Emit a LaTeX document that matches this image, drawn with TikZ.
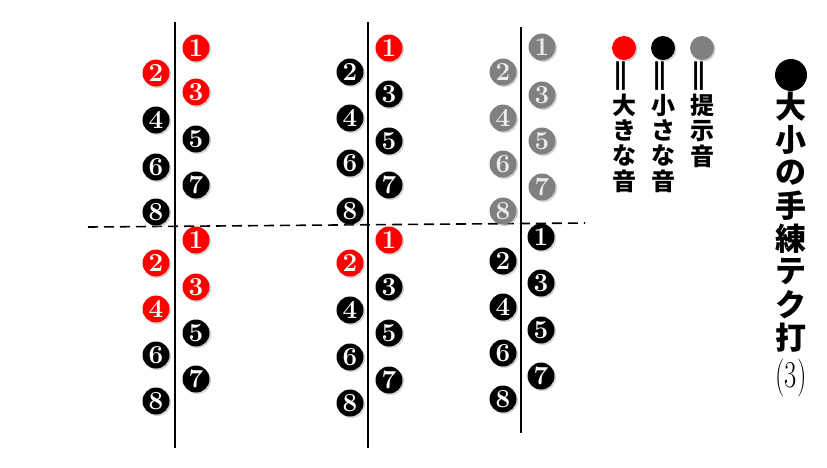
\documentclass[tikz,border=0pt]{standalone}
\usepackage{fontspec}
\newfontfamily\cjk{Noto Sans CJK JP}
\usetikzlibrary{shadows}
\definecolor{myred}{RGB}{255,0,0}
\definecolor{mygray}{RGB}{128,128,128}
\tikzset{
  num/.style={circle, minimum size=27pt, inner sep=0pt,
    drop shadow={shadow xshift=1.5pt, shadow yshift=-1.5pt, opacity=0.35},
    text=white, font=\bfseries\fontsize{26}{26}\selectfont},
  rnum/.style={num, fill=myred},
  bnum/.style={num, fill=black},
  gnum/.style={num, fill=mygray, text=white!85!mygray},
  vline/.style={line width=1.6pt, black},
  dline/.style={line width=1.6pt, black, dash pattern=on 10pt off 6pt},
  dot/.style={circle, minimum size=24pt, inner sep=0pt,
    drop shadow={shadow xshift=1.5pt, shadow yshift=-1.5pt, opacity=0.35}},
  lg/.style={inner sep=0pt, font=\cjk\bfseries\fontsize{24}{24}\selectfont},
  ttl/.style={inner sep=0pt, font=\cjk\bfseries\fontsize{31}{31}\selectfont},
}
\begin{document}
\begin{tikzpicture}[x=1pt,y=-1pt]
\useasboundingbox (0,0) rectangle (827,467);

% lines
\coordinate (l1t) at (175,22); \coordinate (l1b) at (175,448);
\coordinate (l2t) at (368,22); \coordinate (l2b) at (368,448);
\coordinate (l3t) at (521,27); \coordinate (l3b) at (521,433);
\coordinate (dl) at (88,227); \coordinate (dr) at (585,223);
\draw[vline] (l1t) -- (l1b);
\draw[vline] (l2t) -- (l2b);
\draw[vline] (l3t) -- (l3b);
\draw[dline] (dl) -- (dr);

% column 1 upper
\node[rnum] (a1) at (196,48) {1};
\node[rnum] (a2) at (156,73) {2};
\node[rnum] (a3) at (196,92) {3};
\node[bnum] (a4) at (156,120) {4};
\node[bnum] (a5) at (196,139) {5};
\node[bnum] (a6) at (156,167) {6};
\node[bnum] (a7) at (196,185) {7};
\node[bnum] (a8) at (156,212) {8};
% column 1 lower
\node[rnum] (b1) at (196,240) {1};
\node[rnum] (b2) at (156,263) {2};
\node[rnum] (b3) at (196,287) {3};
\node[rnum] (b4) at (156,309) {4};
\node[bnum] (b5) at (196,333) {5};
\node[bnum] (b6) at (156,355) {6};
\node[bnum] (b7) at (196,379) {7};
\node[bnum] (b8) at (156,401) {8};

% column 2 upper
\node[rnum] (c1) at (389,48) {1};
\node[bnum] (c2) at (350,72) {2};
\node[bnum] (c3) at (389,94) {3};
\node[bnum] (c4) at (350,118) {4};
\node[bnum] (c5) at (389,141) {5};
\node[bnum] (c6) at (350,163) {6};
\node[bnum] (c7) at (389,185) {7};
\node[bnum] (c8) at (350,211) {8};
% column 2 lower
\node[rnum] (d1) at (389,240) {1};
\node[rnum] (d2) at (350,263) {2};
\node[bnum] (d3) at (389,287) {3};
\node[bnum] (d4) at (350,310) {4};
\node[bnum] (d5) at (389,333) {5};
\node[bnum] (d6) at (350,357) {6};
\node[bnum] (d7) at (389,380) {7};
\node[bnum] (d8) at (350,403) {8};

% column 3 upper
\node[gnum] (e1) at (542,47) {1};
\node[gnum] (e2) at (503,72) {2};
\node[gnum] (e3) at (542,95) {3};
\node[gnum] (e4) at (503,118) {4};
\node[gnum] (e5) at (542,141) {5};
\node[gnum] (e6) at (503,164) {6};
\node[gnum] (e7) at (542,187) {7};
\node[gnum] (e8) at (503,211) {8};
% column 3 lower
\node[bnum] (f1) at (541,237) {1};
\node[bnum] (f2) at (503,261) {2};
\node[bnum] (f3) at (541,283) {3};
\node[bnum] (f4) at (503,307) {4};
\node[bnum] (f5) at (541,330) {5};
\node[bnum] (f6) at (503,353) {6};
\node[bnum] (f7) at (541,376) {7};
\node[bnum] (f8) at (503,399) {8};

% legend
\node[dot, fill=myred] (kr) at (624,48) {};
\node[dot, fill=black] (kb) at (663,48) {};
\node[dot, fill=mygray] (kg) at (702,48) {};
\node[lg] (qr) at (624,76) {\rotatebox{90}{\scalebox{1.7}[1]{＝}}};
\node[lg] (qb) at (663,76) {\rotatebox{90}{\scalebox{1.7}[1]{＝}}};
\node[lg] (qg) at (702,76) {\rotatebox{90}{\scalebox{1.7}[1]{＝}}};
\foreach \c [count=\i] in {大,き,な,音}
  \node[lg] (r\i) at (624,80+25.3*\i) {\c};
\foreach \c [count=\i] in {小,さ,な,音}
  \node[lg] (s\i) at (663,80+25.3*\i) {\c};
\foreach \c [count=\i] in {提,示,音}
  \node[lg] (p\i) at (702,80+25.3*\i) {\c};

% title
\node[circle, fill=black, minimum size=32pt, inner sep=0pt] (tdot) at (791,75) {};
\foreach \c [count=\i] in {大,小,の,手,練,テ,ク,打}
  \node[ttl] (t\i) at (791,74+33*\i) {\c};
\node[inner sep=0pt, xscale=0.7, font=\fontsize{38}{38}\selectfont] (t9) at (791,378) {(3)};
\end{tikzpicture}
\end{document}
